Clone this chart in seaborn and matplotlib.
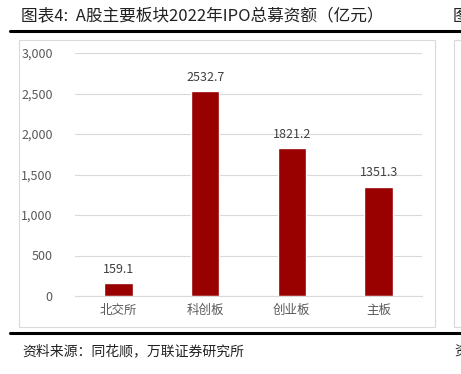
import matplotlib
matplotlib.use("Agg")
import matplotlib.pyplot as plt
import seaborn as sns
import pandas as pd
from matplotlib.patches import Rectangle
from matplotlib.lines import Line2D
from matplotlib.ticker import FuncFormatter

boards = ["北交所", "科创板", "创业板", "主板"]
amounts = [159.1, 2532.7, 1821.2, 1351.3]
yticks = [0, 500, 1000, 1500, 2000, 2500, 3000]

title = "图表4:  A股主要板块2022年IPO总募资额（亿元）"
source = "资料来源：同花顺，万联证券研究所"

sns.set_theme(style="white")
plt.rcParams['font.family'] = ['Noto Sans CJK SC', 'DejaVu Sans']

W, H = 461, 374
fig = plt.figure(figsize=(W / 100, H / 100), dpi=100)

def fx(px):
    return px / W

def fy(py):
    return 1 - py / H

# decorations: rules and boxes
fig.add_artist(Line2D([fx(10), fx(461)], [fy(31), fy(31)], color="black", lw=2.2))
fig.add_artist(Line2D([fx(10), fx(461)], [fy(333), fy(333)], color="black", lw=2.2))
fig.add_artist(Rectangle((fx(19), fy(327)), fx(435) - fx(19), fy(40) - fy(327),
                         fill=False, edgecolor="#d9d9d9", lw=0.8))
fig.add_artist(Rectangle((fx(454), fy(327)), fx(470) - fx(454), fy(40) - fy(327),
                         fill=False, edgecolor="#d9d9d9", lw=0.8))

fig.text(fx(21), fy(17), title, fontsize=12, color="#222222", va="center", ha="left")
fig.text(fx(453), fy(17), "图", fontsize=12, color="#222222", va="center", ha="left")
fig.text(fx(22), fy(351), source, fontsize=10, color="#222222", va="center", ha="left",
         style="italic")
fig.text(fx(454), fy(351), "资", fontsize=10, color="#222222", va="center", ha="left",
         style="italic")

ax = fig.add_axes([fx(75), fy(296), fx(422) - fx(75), fy(53) - fy(296)])
df = pd.DataFrame({"board": boards, "amount": amounts})
sns.barplot(data=df, x="board", y="amount", color="#990000", width=0.33,
            saturation=1, ax=ax)

ax.set_xlim(-0.5, 3.5)
ax.set_ylim(0, 3000)
ax.set_yticks(yticks)
ax.yaxis.set_major_formatter(FuncFormatter(lambda v, p: f"{int(v):,}"))
ax.grid(axis="y", color="#d9d9d9", lw=0.8)
ax.set_axisbelow(True)
for s in ["top", "right", "left"]:
    ax.spines[s].set_visible(False)
ax.spines["bottom"].set_color("#d9d9d9")
ax.spines["bottom"].set_linewidth(0.8)
ax.set_xlabel("")
ax.set_ylabel("")
ax.tick_params(axis="y", length=0, pad=16, labelsize=9, labelcolor="#595959")
ax.tick_params(axis="x", length=0, pad=6, labelsize=9, labelcolor="#595959")

for i, v in enumerate(amounts):
    ax.text(i, v + 90, f"{v:.1f}", ha="center", va="bottom", fontsize=9,
            color="#404040")

fig.savefig("out.png", dpi=100)
